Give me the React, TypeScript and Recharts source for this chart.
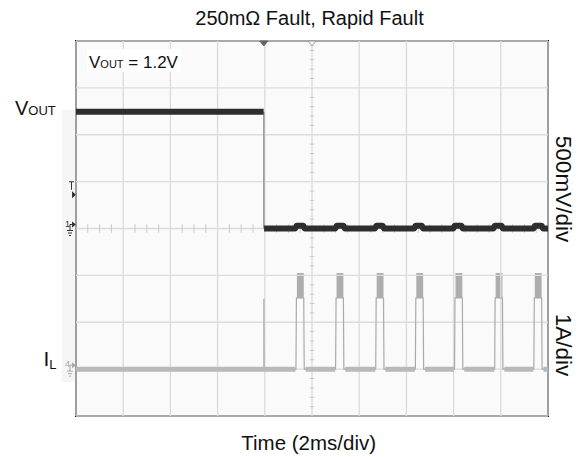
import React from "react";
import {
  ComposedChart,
  Line,
  XAxis,
  YAxis,
  ReferenceLine,
  ReferenceArea,
  ReferenceDot,
} from "recharts";

const FONT = "'Liberation Sans', Arial, Helvetica, sans-serif";
const W = 584;
const H = 457;

// ---- axes: time in ms (2 ms/div), VOUT in V (500 mV/div), IL in A (1 A/div)
const timeDomain = [0, 20];
const voltDomain = [-2, 2];
const ampDomain = [-1, 7];
const timeGrid = [0, 2, 4, 6, 8, 10, 12, 14, 16, 18, 20];
const voltGrid = [-2, -1.5, -1, -0.5, 0, 0.5, 1, 1.5, 2];
const centerTime = 10;
const centerVolt = 0;
const timeMinor = Array.from({ length: 41 }, (_, k) => k * 0.5).filter((v) => v % 2 !== 0);
const voltMinor = Array.from({ length: 41 }, (_, k) => -2 + k * 0.1).filter(
  (v) => Math.abs(Math.round(v * 2) - v * 2) > 1e-6
);

// ---- labels
const title = "250mΩ Fault, Rapid Fault";
const xLabel = "Time (2ms/div)";
const voutScale = "500mV/div";
const ilScale = "1A/div";
const voutNote = " = 1.2V";

// ---- VOUT trace (V)
const voutBefore = 1.245;
const voutAfter = 0;
const faultTime = 7.96;
const bumpStart = [9.32, 11.02, 12.7, 14.36, 16.02, 17.72, 19.42];
const bumpEnd = [9.66, 11.36, 13.02, 14.68, 16.36, 18.06, 19.76];
const bumpHeight = [0.03, 0.03, 0.03, 0.03, 0.03, 0.03, 0.03];

// ---- IL trace (A)
const ilIdle = 0;
const pulseStart = [9.34, 11.02, 12.72, 14.4, 16.06, 17.76, 19.42];
const pulseEnd = [9.65, 11.33, 13.03, 14.71, 16.37, 18.07, 19.73];
const pulseLow = [1.52, 1.52, 1.52, 1.52, 1.52, 1.52, 1.52];
const pulseHigh = [2.05, 2.05, 2.05, 2.05, 2.05, 2.05, 2.05];
const faultSpike = 1.5;

// ---- scope markers
const triggerLevel = 0.36;
const triggerTime = faultTime;

// ---- build series
const voutBand: { t: number; v: number | null }[] = [
  { t: 0, v: voutBefore },
  { t: faultTime - 0.01, v: voutBefore },
  { t: faultTime, v: null },
  { t: faultTime + 0.01, v: voutAfter },
];
bumpStart.forEach((s, k) => {
  const e = bumpEnd[k];
  voutBand.push({ t: s - 0.03, v: voutAfter });
  voutBand.push({ t: s + 0.03, v: voutAfter + bumpHeight[k] });
  voutBand.push({ t: e - 0.03, v: voutAfter + bumpHeight[k] });
  voutBand.push({ t: e + 0.03, v: voutAfter });
});
voutBand.push({ t: 20, v: voutAfter });

const voutEdge = [
  { t: faultTime, v: voutBefore },
  { t: faultTime, v: voutAfter },
];

const ilBase: { t: number; i: number | null }[] = [{ t: 0, i: ilIdle }];
pulseStart.forEach((s, k) => {
  ilBase.push({ t: s - 0.04, i: ilIdle });
  ilBase.push({ t: s, i: null });
  ilBase.push({ t: pulseEnd[k] + 0.08, i: ilIdle });
});
ilBase.push({ t: 20, i: ilIdle });

const ilThin: { t: number; i: number }[] = [
  { t: 0, i: ilIdle },
  { t: faultTime, i: ilIdle },
  { t: faultTime, i: faultSpike },
  { t: faultTime + 0.01, i: ilIdle },
];
pulseStart.forEach((s, k) => {
  ilThin.push({ t: s - 0.02, i: ilIdle });
  ilThin.push({ t: s, i: pulseLow[k] });
  ilThin.push({ t: pulseEnd[k], i: pulseLow[k] });
  ilThin.push({ t: pulseEnd[k] + 0.02, i: ilIdle });
});
ilThin.push({ t: 20, i: ilIdle });

const TopMarker = (filled: boolean) => (p: any) => {
  const { cx, cy } = p;
  return (
    <path
      d={`M${cx - 4},${cy} L${cx + 4},${cy} L${cx},${cy + 5} Z`}
      fill={filled ? "#666" : "#fff"}
      stroke={filled ? "#666" : "#999"}
      strokeWidth={1}
    />
  );
};

const TriggerMarker = (p: any) => {
  const { cx, cy } = p;
  return (
    <g>
      <path d={`M${cx - 4},${cy - 3.5} L${cx},${cy} L${cx - 4},${cy + 3.5} Z`} fill="#333" />
      <path
        d={`M${cx - 7},${cy - 13} L${cx - 2},${cy - 13} M${cx - 4.5},${cy - 13} L${cx - 4.5},${cy - 5}`}
        stroke="#333"
        strokeWidth={1}
        fill="none"
      />
    </g>
  );
};

const ChannelMarker = (label: string, color: string) => (p: any) => {
  const { cx, cy } = p;
  const ay = cy - 4;
  return (
    <g>
      <text x={cx - 11} y={ay + 2} fontSize={9} fill={color} fontFamily={FONT}>
        {label}
      </text>
      <path
        d={`M${cx - 6},${ay + 6} L${cx - 6},${ay} L${cx - 3},${ay}`}
        stroke={color}
        strokeWidth={1}
        fill="none"
      />
      <path d={`M${cx - 4},${ay - 3} L${cx},${ay} L${cx - 4},${ay + 3} Z`} fill={color} />
      <path
        d={`M${cx - 9},${ay + 6} L${cx - 3},${ay + 6} M${cx - 8},${ay + 8.5} L${cx - 4},${ay + 8.5} M${cx - 7},${ay + 11} L${cx - 5},${ay + 11}`}
        stroke={color}
        strokeWidth={1}
        fill="none"
      />
    </g>
  );
};

export default function App() {
  return (
    <div style={{ position: "absolute", left: 0, top: 0, width: W, height: H, background: "#fff" }}>
      <div
        style={{
          position: "absolute",
          left: 62,
          top: 110,
          width: 14,
          height: 272,
          background: "#f5f5f5",
        }}
      />
      <div style={{ position: "absolute", left: 0, top: 0 }}>
        <ComposedChart
          width={W}
          height={H}
          margin={{ top: 41, right: 36, bottom: 41, left: 76 }}
        >
          <XAxis
            type="number"
            dataKey="t"
            domain={timeDomain}
            hide
            allowDataOverflow
            xAxisId="x"
          />
          <YAxis yAxisId="v" type="number" domain={voltDomain} hide allowDataOverflow />
          <YAxis yAxisId="i" type="number" domain={ampDomain} hide allowDataOverflow />

          <ReferenceArea
            xAxisId="x"
            yAxisId="v"
            x1={timeDomain[0]}
            x2={timeDomain[1]}
            y1={voltDomain[0]}
            y2={voltDomain[1]}
            fill="#fafafa"
            fillOpacity={1}
            stroke="none"
          />
          {timeGrid.map((t) => (
            <ReferenceLine key={"gx" + t} xAxisId="x" yAxisId="v" x={t} stroke="#dcdcdc" strokeWidth={1.4} />
          ))}
          {voltGrid.map((v) => (
            <ReferenceLine key={"gy" + v} xAxisId="x" yAxisId="v" y={v} stroke="#dcdcdc" strokeWidth={1.4} />
          ))}
          {timeMinor.map((t) => (
            <ReferenceLine
              key={"mx" + t}
              xAxisId="x"
              yAxisId="v"
              segment={[
                { x: t, y: centerVolt - 0.045 },
                { x: t, y: centerVolt + 0.045 },
              ]}
              stroke="#c8c8c8"
              strokeWidth={1}
            />
          ))}
          {voltMinor.map((v) => (
            <ReferenceLine
              key={"my" + v}
              xAxisId="x"
              yAxisId="v"
              segment={[
                { x: centerTime - 0.09, y: v },
                { x: centerTime + 0.09, y: v },
              ]}
              stroke="#c8c8c8"
              strokeWidth={1}
            />
          ))}

          {pulseStart.map((s, k) => (
            <ReferenceArea
              key={"band" + k}
              xAxisId="x"
              yAxisId="i"
              x1={s + 0.02}
              x2={pulseEnd[k]}
              y1={pulseLow[k]}
              y2={pulseHigh[k]}
              fill="#adadad"
              fillOpacity={1}
              stroke="none"
            />
          ))}

          <Line
            data={ilThin}
            xAxisId="x"
            yAxisId="i"
            dataKey="i"
            type="linear"
            stroke="#aaaaaa"
            strokeWidth={1.2}
            dot={false}
            activeDot={false}
            isAnimationActive={false}
          />
          <Line
            data={ilBase}
            xAxisId="x"
            yAxisId="i"
            dataKey="i"
            type="linear"
            stroke="#b9b9b9"
            strokeWidth={5}
            strokeLinecap="butt"
            dot={false}
            activeDot={false}
            connectNulls={false}
            isAnimationActive={false}
          />
          <Line
            data={voutEdge}
            xAxisId="x"
            yAxisId="v"
            dataKey="v"
            type="linear"
            stroke="#808080"
            strokeWidth={1.2}
            dot={false}
            activeDot={false}
            isAnimationActive={false}
          />
          <Line
            data={voutBand}
            xAxisId="x"
            yAxisId="v"
            dataKey="v"
            type="linear"
            stroke="#2e2e2e"
            strokeWidth={6}
            strokeLinecap="butt"
            strokeLinejoin="round"
            dot={false}
            activeDot={false}
            connectNulls={false}
            isAnimationActive={false}
          />

          <ReferenceArea
            xAxisId="x"
            yAxisId="v"
            x1={timeDomain[0]}
            x2={timeDomain[1]}
            y1={voltDomain[0]}
            y2={voltDomain[1]}
            fill="none"
            stroke="#111"
            strokeWidth={2}
            ifOverflow="visible"
          />

          <ReferenceDot xAxisId="x" yAxisId="v" x={triggerTime} y={voltDomain[1]} r={4} shape={TopMarker(true)} ifOverflow="visible" />
          <ReferenceDot xAxisId="x" yAxisId="v" x={centerTime} y={voltDomain[1]} r={4} shape={TopMarker(false)} ifOverflow="visible" />
          <ReferenceDot xAxisId="x" yAxisId="v" x={timeDomain[0]} y={triggerLevel} r={4} shape={TriggerMarker} ifOverflow="visible" />
          <ReferenceDot xAxisId="x" yAxisId="v" x={timeDomain[0]} y={centerVolt} r={4} shape={ChannelMarker("1", "#333")} ifOverflow="visible" />
          <ReferenceDot xAxisId="x" yAxisId="i" x={timeDomain[0]} y={ilIdle} r={4} shape={ChannelMarker("4", "#aaa")} ifOverflow="visible" />
        </ComposedChart>
      </div>

      <svg
        width={W}
        height={H}
        style={{ position: "absolute", left: 0, top: 0, pointerEvents: "none" }}
        fontFamily={FONT}
      >
        <text x={309.5} y={25} fontSize={20} textAnchor="middle" fill="#111">
          {title}
        </text>
        <text x={308.7} y={450} fontSize={20.5} textAnchor="middle" fill="#111">
          {xLabel}
        </text>
        <rect x={87} y={49} width={94} height={23} fill="#fff" />
        <text x={89} y={68} fontSize={17} fill="#111" style={{ whiteSpace: "pre" }}>
          <tspan>V</tspan>
          <tspan fontSize={11}>OUT</tspan>
          <tspan>{voutNote}</tspan>
        </text>
        <text x={15} y={115} fontSize={20} fill="#111">
          <tspan>V</tspan>
          <tspan fontSize={13}>OUT</tspan>
        </text>
        <text x={43.5} y={366} fontSize={21} fill="#111">
          <tspan>I</tspan>
          <tspan fontSize={13} dy={3}>L</tspan>
        </text>
        <text
          transform="translate(556,189) rotate(90)"
          fontSize={22.5}
          textAnchor="middle"
          fill="#111"
        >
          {voutScale}
        </text>
        <text
          transform="translate(556,345) rotate(90)"
          fontSize={22.5}
          textAnchor="middle"
          fill="#111"
        >
          {ilScale}
        </text>
      </svg>
    </div>
  );
}
